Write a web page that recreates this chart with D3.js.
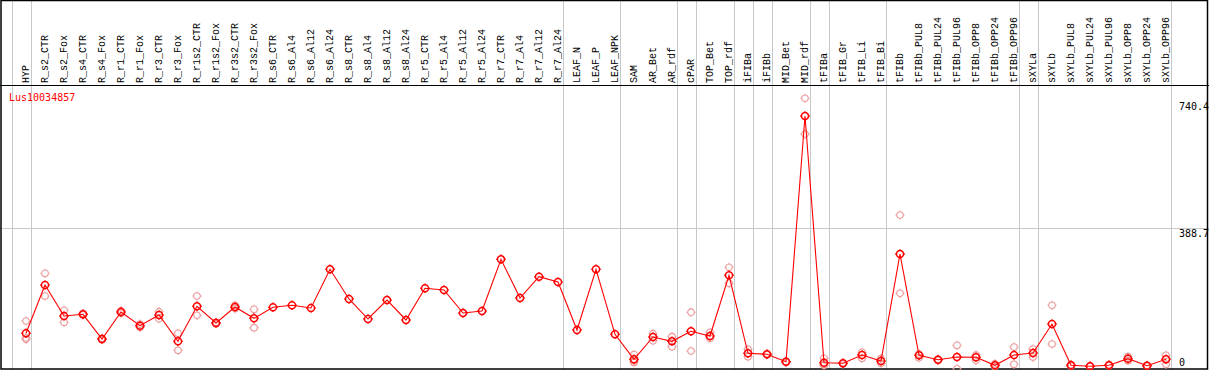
<!DOCTYPE html>
<html><head><meta charset="utf-8">
<script src="https://cdn.jsdelivr.net/npm/d3@7"></script>
<style>html,body{margin:0;padding:0;background:#fff;}svg{display:block;}</style>
</head><body>
<script>
const categories = ["HYP","R_s2_CTR","R_s2_Fox","R_s4_CTR","R_s4_Fox","R_r1_CTR","R_r1_Fox","R_r3_CTR","R_r3_Fox","R_r1s2_CTR","R_r1s2_Fox","R_r3s2_CTR","R_r3s2_Fox","R_s6_CTR","R_s6_Al4","R_s6_Al12","R_s6_Al24","R_s8_CTR","R_s8_Al4","R_s8_Al12","R_s8_Al24","R_r5_CTR","R_r5_Al4","R_r5_Al12","R_r5_Al24","R_r7_CTR","R_r7_Al4","R_r7_Al12","R_r7_Al24","LEAF_N","LEAF_P","LEAF_NPK","SAM","AR_Bet","AR_rdf","cPAR","TOP_Bet","TOP_rdf","iFIBa","iFIBb","MID_Bet","MID_rdf","tFIBa","tFIB_Gr","tFIB_Li","tFIB_Bi","tFIBb","tFIBb_PUL8","tFIBb_PUL24","tFIBb_PUL96","tFIBb_OPP8","tFIBb_OPP24","tFIBb_OPP96","sXYLa","sXYLb","sXYLb_PUL8","sXYLb_PUL24","sXYLb_PUL96","sXYLb_OPP8","sXYLb_OPP24","sXYLb_OPP96"];
const means = [98.6,232,146.4,151.1,82.9,157.5,119.6,149.2,76.5,173.2,127.1,171.3,140.1,170.4,176,168.5,275.4,193.4,138.1,190.6,135.4,222.9,218.2,154.7,160.2,303,196.1,255,240.3,107.7,275.4,95.9,26.8,88.4,76.5,104.4,91.2,258.8,43.4,40.6,20.2,698.9,17.4,15.7,38.7,22.1,317.7,37.8,25.4,33.1,32.3,10.2,38.7,44.2,124.3,10.2,7.5,10.5,28.5,9.1,26.8];
const replicates = [[132.6,85.6,82],[264.4,201.7],[162.2,129],[149,153],[81,85],[161,154],[124,115],[158.3,139],[98.6,51.7],[201.7,148.3],[125,129],[176,167],[164.9,114.1],[],[],[],[],[],[],[],[],[],[],[],[],[],[],[],[],[],[],[],[40,22,18],[97.5,78.2],[89.2,61.6],[156.9,49.7],[101.4,84.8],[280.9,236.7],[54.4,34],[39,42],[19,21],[748,649],[29.6,11,11],[14,17],[46.1,29.6],[28.5,16],[425.4,209.1],[41.4,31.2],[24,27],[65.5,0.7],[38.7,24],[14,6.5],[60.8,13],[55,33],[176,69.1],[8,12],[7,8],[9,12],[34,22.9],[8,10],[37.8,13]];
const groupEnds = ["HYP","R_r7_Al24","LEAF_NPK","AR_rdf","cPAR","TOP_rdf","iFIBa","iFIBb","MID_rdf","tFIBa","tFIB_Bi","tFIBb_OPP96","sXYLa","sXYLb_OPP96"];
const yTickValues = [0, 388.7, 740.4];
const yTickLabels = ["0", "388.7", "740.4"];
const geneName = "Lus10034857";

const W = 1209, H = 370;
const svg = d3.select("body").append("svg").attr("width", W).attr("height", H)
  .style("font-family", "'DejaVu Sans Mono', monospace").style("font-size", "10px");

const x = d3.scalePoint().domain(categories).range([26, 1166]);
const step = x.step();
const y = d3.scaleLinear().domain([0, 740.4]).range([369, 101]);
const gridOff = 4.5;

// vertical group separators
const sepX = [x(categories[0]) - step + gridOff].concat(groupEnds.map(c => x(c) + gridOff));
svg.append("g").selectAll("line").data(sepX).join("line")
  .attr("x1", d => Math.round(d) + 0.5).attr("x2", d => Math.round(d) + 0.5)
  .attr("y1", 0).attr("y2", H)
  .attr("stroke", "#c8c8c8").attr("stroke-width", 1);

// horizontal gridline at middle tick
svg.append("line").attr("x1", 0).attr("x2", W)
  .attr("y1", Math.round(y(388.7)) + 0.5).attr("y2", Math.round(y(388.7)) + 0.5)
  .attr("stroke", "#c8c8c8");

// frame lines
svg.append("rect").attr("x", 1).attr("y", 0.5).attr("width", W - 2.5).attr("height", H - 1.5)
  .attr("fill", "none").attr("stroke", "#000").attr("stroke-width", 1.5);
svg.append("line").attr("x1", 0).attr("x2", W).attr("y1", 85.5).attr("y2", 85.5)
  .attr("stroke", "#000").attr("stroke-width", 1.2);

// header labels
svg.append("g").selectAll("text").data(categories).join("text")
  .attr("transform", d => `translate(${x(d) + 2.5},83) rotate(-90)`)
  .attr("text-anchor", "start").attr("fill", "#000")
  .style("font-family", "'Liberation Mono', monospace").style("font-size", "10px")
  .text(d => d);

// right axis labels
svg.append("g").selectAll("text").data(yTickValues).join("text")
  .attr("x", 1179)
  .attr("y", (d, i) => i === 0 ? y(d) - 3 : y(d) + 9)
  .attr("fill", "#000").text((d, i) => yTickLabels[i]);

// gene label
svg.append("text").attr("x", 9).attr("y", 100.5).attr("fill", "#ff0000").text(geneName);

function marker(cx, cy, r) {
  const t = 1.3;
  return `M${cx + r},${cy}A${r},${r} 0 1,1 ${cx - r},${cy}A${r},${r} 0 1,1 ${cx + r},${cy}` +
    `M${cx},${cy - r}v${-t}M${cx},${cy + r}v${t}M${cx - r},${cy}h${-t}M${cx + r},${cy}h${t}`;
}

// replicate points
const repPts = [];
categories.forEach((c, i) => replicates[i].forEach(v => repPts.push({c, v})));
svg.append("g").selectAll("path").data(repPts).join("path")
  .attr("d", d => marker(x(d.c), y(d.v), 3.3))
  .attr("fill", "none").attr("stroke", "#ec9a9a").attr("stroke-width", 1.1);

// mean line
const line = d3.line().x((d, i) => x(categories[i])).y(d => y(d));
svg.append("path").datum(means).attr("d", line)
  .attr("fill", "none").attr("stroke", "#ff0000").attr("stroke-width", 1.1);

// mean points
svg.append("g").selectAll("path").data(means).join("path")
  .attr("d", (d, i) => marker(x(categories[i]), y(d), 3.5))
  .attr("fill", "none").attr("stroke", "#ff0000").attr("stroke-width", 1.5);
</script>
</body></html>
